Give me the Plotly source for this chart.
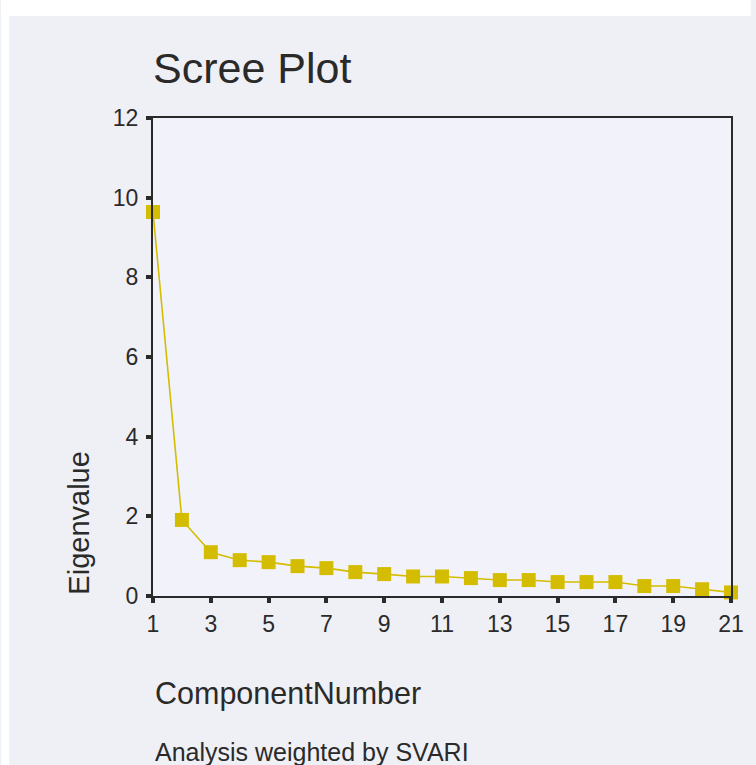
import plotly.graph_objects as go

# ---- data ----
components = list(range(1, 22))
eigenvalues = [9.64, 1.91, 1.10, 0.90, 0.85, 0.75, 0.70, 0.60, 0.55, 0.49,
               0.49, 0.45, 0.40, 0.40, 0.35, 0.35, 0.35, 0.25, 0.25, 0.17, 0.09]
x_ticks = list(range(1, 22, 2))
y_ticks = list(range(0, 13, 2))

title_text = "Scree Plot"
x_title = "ComponentNumber"
y_title = "Eigenvalue"
footnote = "Analysis weighted by SVARI"

# ---- layout constants (pixels) ----
W, H = 756, 765
L, R, T, B = 153, 20, 118, 169
PW, PH = W - L - R, H - T - B

def px_x(px):
    return (px - L) / PW

def px_y(py):
    return 1 - (py - T) / PH

FONT = "Liberation Sans, Arial, sans-serif"
TXT = "#2a2a2a"
YEL = "#D4BD00"
PANEL = "#EFF0F5"
PLOTBG = "#F2F3FA"

fig = go.Figure()
fig.add_trace(go.Scatter(
    x=components, y=eigenvalues, mode="lines+markers",
    line=dict(color=YEL, width=1.6),
    marker=dict(symbol="square", size=14, color=YEL),
    cliponaxis=False, showlegend=False, hoverinfo="x+y",
))

axis_common = dict(
    showline=True, linecolor=TXT, linewidth=2, mirror=True,
    ticks="outside", ticklen=5, tickwidth=4, tickcolor=TXT,
    showgrid=False, zeroline=False,
    tickfont=dict(family=FONT, size=23, color=TXT),
)

fig.update_layout(
    width=W, height=H,
    margin=dict(l=L, r=R, t=T, b=B, pad=0),
    paper_bgcolor=PANEL, plot_bgcolor=PLOTBG,
    xaxis=dict(range=[1, 21], tickvals=x_ticks, ticklabelstandoff=1, **axis_common),
    yaxis=dict(range=[0, 12], tickvals=y_ticks, ticklabelstandoff=3, **axis_common),
    font=dict(family=FONT, color=TXT),
    shapes=[
        dict(type="rect", xref="paper", yref="paper", layer="below",
             x0=px_x(0), x1=px_x(W), y0=px_y(16), y1=px_y(0),
             fillcolor="white", line=dict(width=0)),
        dict(type="rect", xref="paper", yref="paper", layer="below",
             x0=px_x(0), x1=px_x(8), y0=px_y(H), y1=px_y(0),
             fillcolor="white", line=dict(width=0)),
    ],
    annotations=[
        dict(text=title_text, xref="paper", yref="paper", x=px_x(151), y=px_y(68),
             xanchor="left", yanchor="middle", showarrow=False,
             font=dict(family=FONT, size=43, color=TXT)),
        dict(text=y_title, xref="paper", yref="paper", x=px_x(78), y=px_y(523),
             xanchor="center", yanchor="middle", textangle=-90, showarrow=False,
             font=dict(family=FONT, size=29, color=TXT)),
        dict(text=x_title, xref="paper", yref="paper", x=px_x(153), y=px_y(693),
             xanchor="left", yanchor="middle", showarrow=False,
             font=dict(family=FONT, size=30.5, color=TXT)),
        dict(text=footnote, xref="paper", yref="paper", x=px_x(153), y=px_y(752),
             xanchor="left", yanchor="middle", showarrow=False,
             font=dict(family=FONT, size=25, color=TXT)),
    ],
)

fig.write_html("out.html")
